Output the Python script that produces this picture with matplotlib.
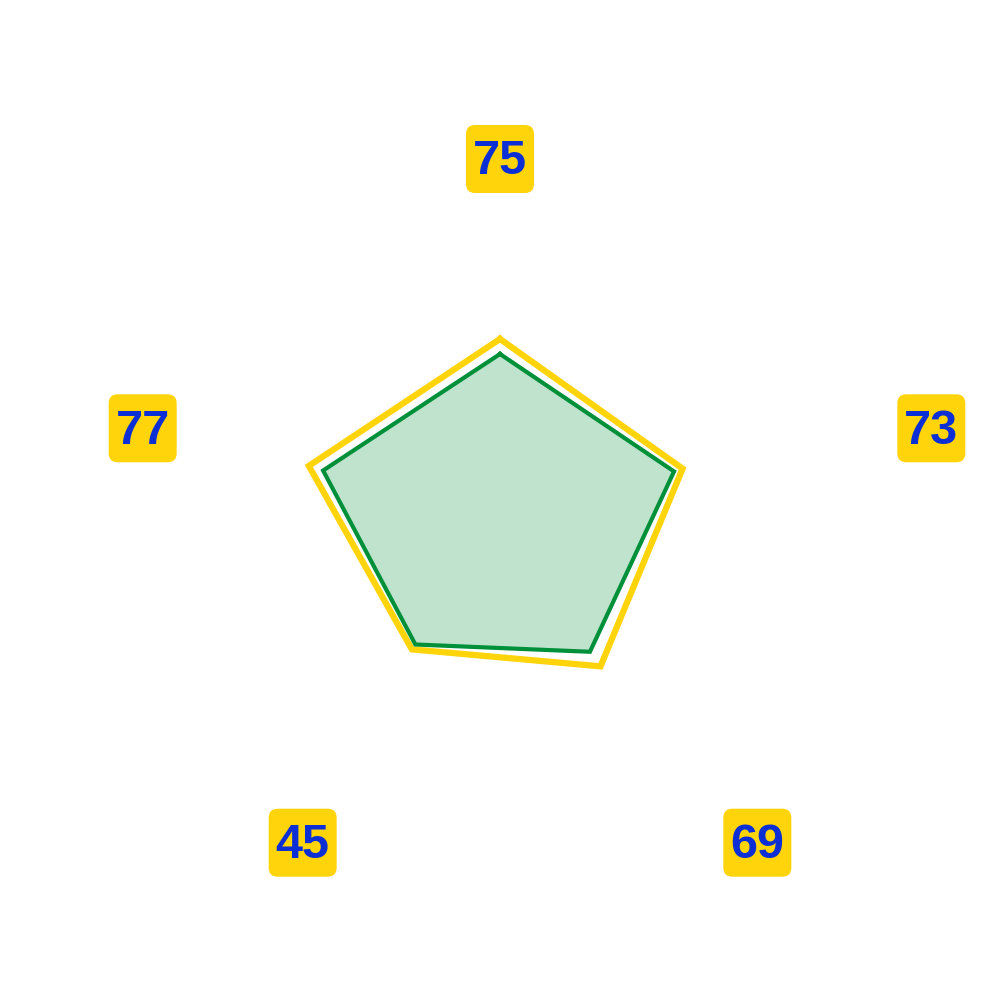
import numpy as np
import matplotlib.pyplot as plt
from matplotlib.patches import FancyBboxPatch

# radar con dos series, etiquetas en cajas amarillas
categorias = ['75', '73', '69', '45', '77']
serie_verde = [58, 61, 51, 48, 62]
serie_amarilla = [63, 64, 57, 50, 67]

verde = '#00903A'
amarillo = '#FFD40A'
azul = '#0B2FD4'

n = len(categorias)
ang = np.linspace(0, 2*np.pi, n, endpoint=False)
ang_c = np.append(ang, ang[0])

fig = plt.figure(figsize=(10, 10), dpi=100)
ax = fig.add_axes([0.2, 0.172, 0.6, 0.6], projection='polar')
ax.set_theta_offset(np.pi/2)
ax.set_theta_direction(-1)
ax.set_ylim(0, 100)

ya = np.append(serie_amarilla, serie_amarilla[0])
yv = np.append(serie_verde, serie_verde[0])
ax.plot(ang_c, ya, color=amarillo, lw=4.5, solid_joinstyle='miter')
ax.fill(ang_c, yv, color=verde, alpha=0.25, lw=0)
ax.plot(ang_c, yv, color=verde, lw=3, solid_joinstyle='miter')

ax.set_xticks([])
ax.set_yticks([])
ax.grid(False)
ax.spines['polar'].set_visible(False)
ax.patch.set_visible(False)

# desplazamiento de cada etiqueta en pixeles desde el borde del eje
desp = [(0, 69), (146, 7), (81, -72), (-21, -72), (-72, 7)]
fig.canvas.draw()
for i in range(n):
    px, py = ax.transData.transform((ang[i], 100))
    cx = px + desp[i][0]
    cy = py + desp[i][1]
    caja = FancyBboxPatch((cx - 28, cy - 28), 56, 56,
                          boxstyle='round,pad=6,rounding_size=9',
                          transform=None, fc=amarillo, ec='none')
    fig.patches.append(caja)
    fig.text(cx/1000, cy/1000 - 0.003, categorias[i], ha='center', va='center',
             fontsize=35, color=azul, fontweight='bold', fontstretch='condensed',
             family='Liberation Sans')

plt.savefig('out.png', dpi=100)
